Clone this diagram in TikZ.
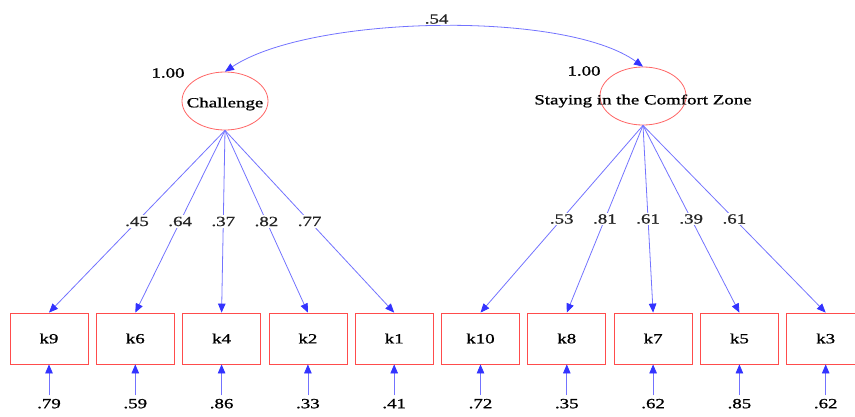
\documentclass[tikz,border=0pt]{standalone}
\usepackage{fontspec}
\setmainfont{Liberation Serif}[FakeStretch=1.35, FakeBold=1]
\usetikzlibrary{arrows.meta, positioning, shapes.geometric}

\begin{document}
\begin{tikzpicture}[x=1pt, y=-1pt, font=\fontsize{14pt}{16pt}\selectfont]
	\tikzset {>={Triangle[length=9pt, width=7.5pt, fill=blue!80, color=blue!80]}, node distance=7.5pt,
		latent/.style={ellipse, draw=red!60, line width=0.8pt, minimum width=86pt, minimum height=58pt, inner sep=0pt},
		observed/.style={rectangle, draw=red!70, line width=0.8pt, minimum width=78pt, minimum height=51pt},
		path/.style={->, draw=blue!55, line width=0.8pt},
		coef/.style={fill=white, inner sep=1.5pt, text=black!85} }
	\useasboundingbox (0,0) rectangle (855,416);

	% factors
	\node[latent, label={[yshift=-3pt]center:Challenge}] (ch) at (225,101) {};
	\node[latent, label={[yshift=-5pt]center:Staying in the Comfort Zone}] (sc) at (643,96) {};
	\node (vch) at (168,73) {1.00};
	\node (vsc) at (584,71) {1.00};

	% indicators
	\node[observed] (k9) at (49,338.5) {k9};
	\node[observed, right=of k9] (k6) {k6};
	\node[observed, right=of k6] (k4) {k4};
	\node[observed, right=of k4] (k2) {k2};
	\node[observed, right=of k2] (k1) {k1};
	\node[observed, right=of k1] (k10) {k10};
	\node[observed, right=of k10] (k8) {k8};
	\node[observed, right=of k8] (k7) {k7};
	\node[observed, right=of k7] (k5) {k5};
	\node[observed, right=of k5] (k3) {k3};

	% error variances
	\node[below=31pt of k9] (e9) {.79};
	\node[below=31pt of k6] (e6) {.59};
	\node[below=31pt of k4] (e4) {.86};
	\node[below=31pt of k2] (e2) {.33};
	\node[below=31pt of k1] (e1) {.41};
	\node[below=31pt of k10] (e10) {.72};
	\node[below=31pt of k8] (e8) {.35};
	\node[below=31pt of k7] (e7) {.62};
	\node[below=31pt of k5] (e5) {.85};
	\node[below=31pt of k3] (e3) {.62};

	% covariance
	\draw[path, <->] (ch.north) .. controls (310,15) and (565,10) .. node[coef, above=1pt] {.54} (sc.north);

	% loadings
	\path
		(ch.south) edge[path] node[coef] {.45} (k9.north)
		(ch.south) edge[path] node[coef] {.64} (k6.north)
		(ch.south) edge[path] node[coef] {.37} (k4.north)
		(ch.south) edge[path] node[coef] {.82} (k2.north)
		(ch.south) edge[path] node[coef] {.77} (k1.north)
		(sc.south) edge[path] node[coef] {.53} (k10.north)
		(sc.south) edge[path] node[coef] {.81} (k8.north)
		(sc.south) edge[path] node[coef] {.61} (k7.north)
		(sc.south) edge[path] node[coef] {.39} (k5.north)
		(sc.south) edge[path] node[coef] {.61} (k3.north);

	\path
		(e9.north) edge[path] (k9.south)
		(e6.north) edge[path] (k6.south)
		(e4.north) edge[path] (k4.south)
		(e2.north) edge[path] (k2.south)
		(e1.north) edge[path] (k1.south)
		(e10.north) edge[path] (k10.south)
		(e8.north) edge[path] (k8.south)
		(e7.north) edge[path] (k7.south)
		(e5.north) edge[path] (k5.south)
		(e3.north) edge[path] (k3.south);
\end{tikzpicture}
\end{document}
